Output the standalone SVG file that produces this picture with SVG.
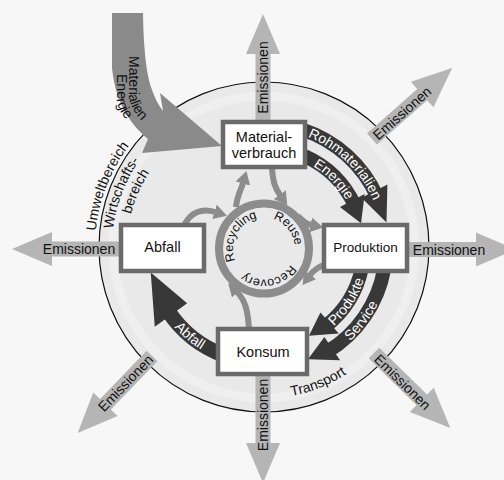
<svg xmlns="http://www.w3.org/2000/svg" width="504" height="480" viewBox="0 0 504 480">
<style>
text { font-family: "Liberation Sans", Arial, Helvetica, sans-serif; }
.lbl { font-size: 14.5px; fill: #111; text-anchor: middle; }
.em { font-size: 14px; fill: #111; text-anchor: middle; }
.arc { font-size: 14px; fill: #111; }
.wt { font-size: 14px; fill: #fff; }
.ring { font-size: 12.5px; fill: #111; }
.box { fill: #fff; stroke: #6a6a6a; stroke-width: 4.5; }
.band { fill: none; stroke: #383838; stroke-width: 14; }
.head { fill: #383838; }
.loop { fill: none; stroke: #8c8c8c; stroke-width: 6; marker-end: url(#loopHead); }
.emis { fill: #b5b5b5; }
</style>
<defs>
  <marker id="loopHead" markerUnits="userSpaceOnUse" markerWidth="14" markerHeight="15" refX="0.5" refY="7.5" orient="auto" viewBox="0 0 14 15">
    <path d="M0,0 L13,7.5 L0,15 Z" fill="#8c8c8c"/>
  </marker>
  <!-- emission arrow pointing along +x, 107 long -->
  <path id="emArrow" d="M0,-7.5 H67 V-17 L107,0 L67,17 V7.5 H0 Z"/>
  <!-- text baselines -->
  <path id="pUmwelt" d="M95,247.5 A169 169 0 0 1 264,78.5"/>
  <path id="pWirt" d="M112,247.5 A152 152 0 0 1 264,95.5"/>
  <path id="pBereich" d="M127,247.5 A137 137 0 0 1 264,110.5"/>
  <path id="pTransport" d="M237.78,396.21 A151 151 0 0 0 394.77,323"/>
  <path id="pRoh" d="M264,128.5 A119 119 0 0 1 383,247.5"/>
  <path id="pEnergie" d="M264,152.5 A95 95 0 0 1 359,247.5"/>
  <path id="pProdukte" d="M264,352.5 A105 105 0 0 0 369,247.5"/>
  <path id="pService" d="M264,374.5 A127 127 0 0 0 391,247.5"/>
  <path id="pAbfall" d="M144,247.5 A120 120 0 0 0 264,367.5"/>
  <path id="pRing" d="M295,248.5 A31 31 0 1 1 233,248.5 A31 31 0 1 1 295,248.5"/>
  <path id="pMat" d="M128.5,56 L128.5,94 Q130,116 158,133"/>
  <path id="pEn" d="M116.5,74 L116.5,98 Q118,118 140,129"/>
</defs>

<rect width="504" height="480" fill="#f7f7f7"/>

<!-- economy / environment disc -->
<g id="bereich">
  <circle cx="264" cy="247" r="165" fill="#e9e9e9"/>
  <circle cx="264" cy="247" r="151" fill="none" stroke="#efefef" stroke-width="9"/>
  <circle cx="264" cy="247" r="165" fill="none" stroke="#111" stroke-width="1.2"/>
  <text class="arc"><textPath href="#pUmwelt" startOffset="16.5">Umweltbereich</textPath></text>
  <text class="arc"><textPath href="#pWirt" startOffset="18.6">Wirtschafts-</textPath></text>
  <text class="arc"><textPath href="#pBereich" startOffset="33.5">bereich</textPath></text>
  <text class="arc"><textPath href="#pTransport" startOffset="54">Transport</textPath></text>
</g>

<g id="connectors">
  <!-- material and energy input -->
  <g id="input">
    <path d="M112,13 L143,13 C143.5,45 146,72 151,87 C155,99 159,106 163,111 L160,93 L222,146 L142,153 L148,139 C135,128 116,108 112,68 Z" fill="#8a8a8a"/>
    <text class="arc"><textPath href="#pMat">Materialien</textPath></text>
    <text class="arc"><textPath href="#pEn">Energie</textPath></text>
  </g>

  <!-- emissions -->
  <g id="emissions" class="emis">
    <use href="#emArrow" transform="translate(263,121) rotate(-90)"/>
    <use href="#emArrow" transform="translate(409,249.5)"/>
    <use href="#emArrow" transform="translate(119,249) rotate(180)"/>
    <use href="#emArrow" transform="translate(263,376) rotate(90)"/>
    <use href="#emArrow" transform="translate(372,139) rotate(-41.5)"/>
    <use href="#emArrow" transform="translate(374,353) rotate(44.5)"/>
    <use href="#emArrow" transform="translate(152,356) rotate(134)"/>
  </g>
  <g id="emission-labels">
    <text class="em" transform="translate(263,77.5) rotate(-90)" y="5">Emissionen</text>
    <text class="em" x="449" y="254.5">Emissionen</text>
    <text class="em" x="79" y="254">Emissionen</text>
    <text class="em" transform="translate(263,415) rotate(-90)" y="5">Emissionen</text>
    <text class="em" transform="translate(402,113) rotate(-41.5)" y="5">Emissionen</text>
    <text class="em" transform="translate(402.5,382) rotate(44.5)" y="5">Emissionen</text>
    <text class="em" transform="translate(125.5,383) rotate(-46)" y="5">Emissionen</text>
  </g>

  <!-- main cycle -->
  <g id="flows">
    <path class="band" d="M302.32,129.56 A124 124 0 0 1 377.28,197.07"/>
    <path class="head" d="M361.56,197.79 L387.40,184.62 L386.49,222.58 Z"/>
    <path class="band" d="M304.67,156.15 A100 100 0 0 1 354.63,205.24"/>
    <path class="head" d="M339.93,207.12 L364.65,193.98 L361.03,223.31 Z"/>
    <path class="band" d="M361.81,268.29 A100 100 0 0 1 325.57,326.3"/>
    <path class="head" d="M320.42,312.40 L338.79,333.54 L308.95,335.71 Z"/>
    <path class="band" d="M384.15,268.69 A122 122 0 0 1 326.83,352.08"/>
    <path class="head" d="M324.39,337.03 L340.05,360.24 L307.98,359.15 Z"/>
    <path class="band" style="stroke-width:15" d="M224.67,355.57 A115 115 0 0 1 167.55,310.13"/>
    <path class="head" d="M187.14,303.34 L154.78,326.85 L150.75,272.61 Z"/>
    <text class="wt"><textPath href="#pRoh" startOffset="44.7">Rohmaterialien</textPath></text>
    <text class="wt"><textPath href="#pEnergie" startOffset="51.4">Energie</textPath></text>
    <text class="wt"><textPath href="#pProdukte" startOffset="76">Produkte</textPath></text>
    <text class="wt"><textPath href="#pService" startOffset="94.2">Service</textPath></text>
    <text class="wt"><textPath href="#pAbfall" startOffset="87.1">Abfall</textPath></text>
  </g>

  <!-- loops through recycling -->
  <g id="loops">
    <path class="loop" d="M236,207 C237,196 241,190 243,183"/>
    <path class="loop" d="M272,168 C273,182 275,188 280,195"/>
    <path class="loop" d="M184,226 C190,212 202,208 215,212"/>
    <path class="loop" d="M298,216 C302,220 306,224 311,225"/>
    <path class="loop" d="M326,264 C318,267 313,271 310,275"/>
    <path class="loop" d="M249,330 C248,310 245,300 237,292"/>
  </g>
</g>

<g id="recycling">
  <circle cx="264" cy="248.5" r="45" fill="none" stroke="#8c8c8c" stroke-width="8"/>
  <text class="ring"><textPath href="#pRing" startOffset="84.9">Recycling</textPath></text>
  <text class="ring"><textPath href="#pRing" startOffset="155.3">Reuse</textPath></text>
  <text class="ring"><textPath href="#pRing" startOffset="16.8">Recovery</textPath></text>
</g>

<g id="materialverbrauch">
  <rect class="box" x="223" y="122" width="82" height="45"/>
  <text class="lbl" x="264" y="141.5">Material-</text>
  <text class="lbl" x="264" y="157.5">verbrauch</text>
</g>
<g id="produktion">
  <rect class="box" x="324" y="225" width="83" height="46"/>
  <text class="lbl" x="365.5" y="252" style="font-size:13.5px">Produktion</text>
</g>
<g id="konsum">
  <rect class="box" x="218" y="329" width="89" height="45"/>
  <text class="lbl" x="263" y="357">Konsum</text>
</g>
<g id="abfall">
  <rect class="box" x="121" y="225" width="83" height="46"/>
  <text class="lbl" x="162.5" y="252">Abfall</text>
</g>
</svg>
